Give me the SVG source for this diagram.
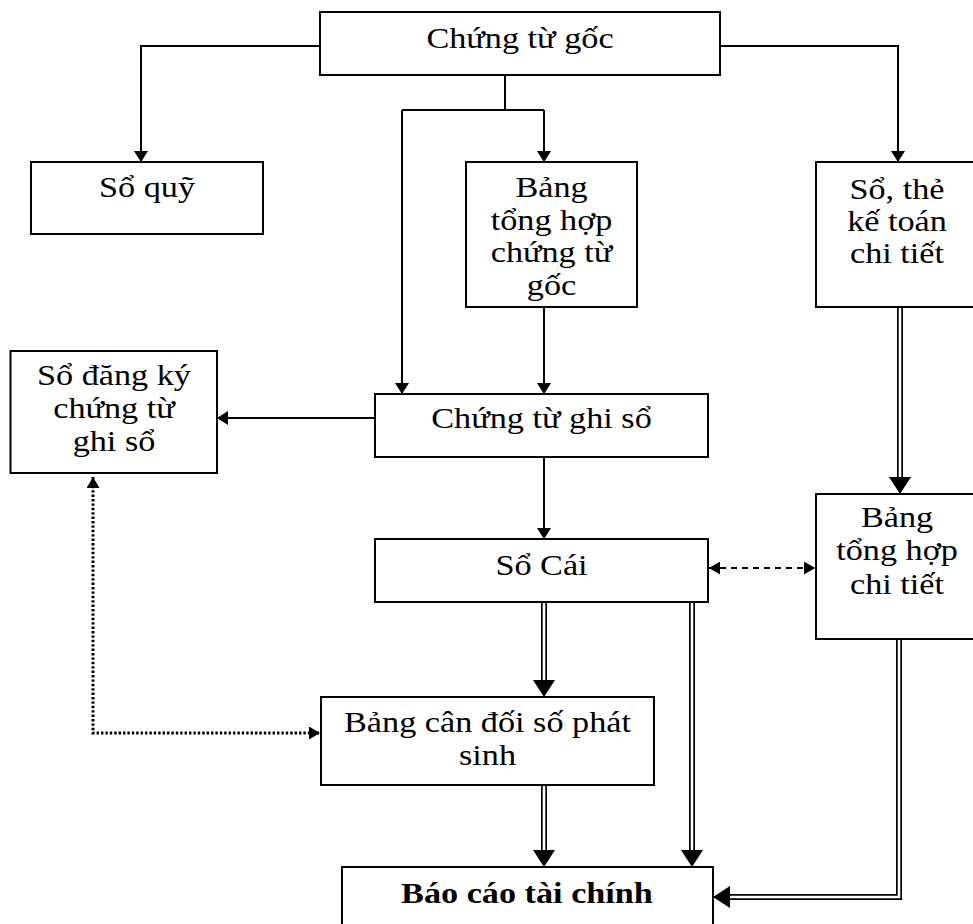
<svg xmlns="http://www.w3.org/2000/svg" width="973" height="924" viewBox="0 0 973 924">
<style>
.box{fill:#fff;stroke:#000;stroke-width:2}
.t{font-family:"Liberation Serif","Times New Roman",serif;font-size:29px;fill:#000;text-anchor:middle}
.b{font-weight:bold}
.ln{fill:none;stroke:#000;stroke-width:2}
.dash{fill:none;stroke:#000;stroke-width:2;stroke-dasharray:6 5}
.dot{fill:none;stroke:#000;stroke-width:3;stroke-dasharray:2.4 2}
.dout{fill:none;stroke:#000;stroke-width:6}
.din{fill:none;stroke:#fff;stroke-width:2.6}
</style>
<defs>
<marker id="a" markerUnits="userSpaceOnUse" markerWidth="12" markerHeight="14" refX="11" refY="7" orient="auto"><path d="M0,0 L11,7 L0,14 z" fill="#000"/></marker>
<marker id="s" markerUnits="userSpaceOnUse" markerWidth="12" markerHeight="13" refX="11" refY="6.5" orient="auto-start-reverse"><path d="M0,0 L11,6.5 L0,13 z" fill="#000"/></marker>
<marker id="d" markerUnits="userSpaceOnUse" markerWidth="18" markerHeight="22" refX="0" refY="11" orient="auto"><path d="M0,0 L17,11 L0,22 z" fill="#000"/></marker>
</defs>
<rect width="973" height="924" fill="#fff"/>
<g id="connectors">
<path class="ln" d="M320,46 H141 V162" marker-end="url(#a)"/>
<path class="ln" d="M720,46 H898 V162" marker-end="url(#a)"/>
<path class="ln" d="M505,75 V110 M402,110 H544"/>
<path class="ln" d="M544,110 V162" marker-end="url(#a)"/>
<path class="ln" d="M402,110 V394" marker-end="url(#a)"/>
<path class="ln" d="M544,307 V394" marker-end="url(#a)"/>
<path class="ln" d="M375,418 H217" marker-end="url(#a)"/>
<path class="ln" d="M544,457 V539" marker-end="url(#a)"/>
<path class="dash" d="M709,568 H815" marker-start="url(#s)" marker-end="url(#s)"/>
<path class="dot" d="M93,477 V733 H320" marker-start="url(#s)" marker-end="url(#s)"/>
<path class="dout" d="M900,307 V477" marker-end="url(#d)"/>
<path class="din" d="M900,307 V477"/>
<path class="dout" d="M544,602 V680" marker-end="url(#d)"/>
<path class="din" d="M544,602 V680"/>
<path class="dout" d="M692,602 V850" marker-end="url(#d)"/>
<path class="din" d="M692,602 V850"/>
<path class="dout" d="M544,785 V850" marker-end="url(#d)"/>
<path class="din" d="M544,785 V850"/>
<path class="dout" d="M899,639 V897 H730" marker-end="url(#d)"/>
<path class="din" d="M899,639 V897 H730"/>
</g>
<g id="chung-tu-goc">
<rect class="box" x="320" y="12" width="400" height="63"/>
<text class="t" transform="translate(520 48) scale(1.18 1)">Chứng từ gốc</text>
</g>
<g id="so-quy">
<rect class="box" x="31" y="162" width="232" height="72"/>
<text class="t" transform="translate(147 197) scale(1.18 1)">Sổ quỹ</text>
</g>
<g id="bang-tong-hop-chung-tu-goc">
<rect class="box" x="466" y="162" width="171" height="145"/>
<text class="t" transform="translate(551.5 197) scale(1.18 1)"><tspan x="0" y="0">Bảng</tspan><tspan x="0" y="33">tổng hợp</tspan><tspan x="0" y="65">chứng từ</tspan><tspan x="0" y="98">gốc</tspan></text>
</g>
<g id="so-the-ke-toan-chi-tiet">
<rect class="box" x="816" y="162" width="170" height="145"/>
<text class="t" transform="translate(897 199) scale(1.18 1)"><tspan x="0" y="0">Sổ, thẻ</tspan><tspan x="0" y="32">kế toán</tspan><tspan x="0" y="64">chi tiết</tspan></text>
</g>
<g id="so-dang-ky-chung-tu-ghi-so">
<rect class="box" x="10.5" y="351" width="206.5" height="122"/>
<text class="t" transform="translate(114 385) scale(1.18 1)"><tspan x="0" y="0">Sổ đăng ký</tspan><tspan x="0" y="33">chứng từ</tspan><tspan x="0" y="66">ghi sổ</tspan></text>
</g>
<g id="chung-tu-ghi-so">
<rect class="box" x="375" y="394" width="333" height="63"/>
<text class="t" transform="translate(541.5 428) scale(1.18 1)">Chứng từ ghi sổ</text>
</g>
<g id="so-cai">
<rect class="box" x="375" y="539" width="333" height="63"/>
<text class="t" transform="translate(541.5 575) scale(1.18 1)">Sổ Cái</text>
</g>
<g id="bang-tong-hop-chi-tiet">
<rect class="box" x="816" y="494" width="170" height="145"/>
<text class="t" transform="translate(897 527) scale(1.18 1)"><tspan x="0" y="0">Bảng</tspan><tspan x="0" y="33">tổng hợp</tspan><tspan x="0" y="67">chi tiết</tspan></text>
</g>
<g id="bang-can-doi-so-phat-sinh">
<rect class="box" x="321" y="697" width="333" height="88"/>
<text class="t" transform="translate(487.5 732) scale(1.18 1)"><tspan x="0" y="0">Bảng cân đối số phát</tspan><tspan x="0" y="33">sinh</tspan></text>
</g>
<g id="bao-cao-tai-chinh">
<rect class="box" x="342" y="867" width="371" height="75"/>
<text class="t b" transform="translate(527 903) scale(1.18 1)">Báo cáo tài chính</text>
</g>
</svg>
